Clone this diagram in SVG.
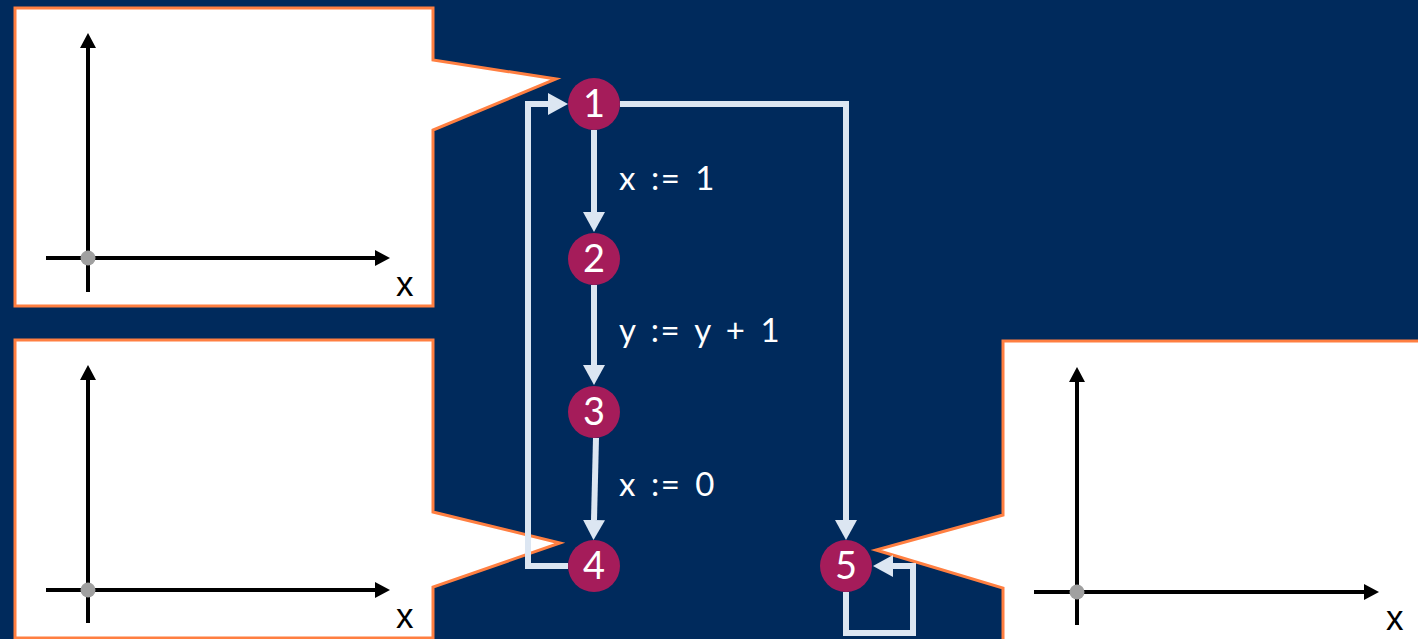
<svg xmlns="http://www.w3.org/2000/svg" width="1418" height="639" viewBox="0 0 1418 639">
<defs>
<style>
.callout{fill:#fff;stroke:#FF7F41;stroke-width:3;stroke-linejoin:miter}
.axis{stroke:#000;stroke-width:4;fill:none}
.dot{fill:#A0A0A0}
.axlbl{font-family:"Liberation Sans",Arial,sans-serif;font-size:35px;fill:#000}
.node{fill:#A51C5A}
.ntext{font-family:Lato,"Open Sans",sans-serif;font-size:38px;fill:#fff;text-anchor:middle}
.edge{stroke:#DCE6F2;stroke-width:6;fill:none;marker-end:url(#ah)}
.elbl{font-family:Lato,"Open Sans",sans-serif;font-size:33px;fill:#fff;letter-spacing:1.5px;word-spacing:4px}
</style>
<marker id="ah" markerUnits="userSpaceOnUse" markerWidth="20" markerHeight="22" refX="0" refY="11" orient="auto" viewBox="0 0 20 22">
<path d="M0,0 L20,11 L0,22 Z" fill="#DCE6F2"/>
</marker>
<marker id="bk" markerUnits="userSpaceOnUse" markerWidth="15" markerHeight="16" refX="0" refY="8" orient="auto" viewBox="0 0 15 16">
<path d="M0,0 L15,8 L0,16 Z" fill="#000"/>
</marker>
</defs>
<rect width="1418" height="639" fill="#002A5C"/>

<g id="callout-top-left">
<path class="callout" d="M15,8 H433 V60 L556,79 L433,130 V306 H15 Z"/>
<path class="axis" d="M88,292 V48" marker-end="url(#bk)"/>
<path class="axis" d="M46,258 H375" marker-end="url(#bk)"/>
<circle class="dot" cx="88" cy="258" r="7.5"/>
<text class="axlbl" x="396" y="296">x</text>
</g>

<g id="callout-bottom-left">
<path class="callout" d="M15,340 H433 V512 L560,543 L433,587 V638 H15 Z"/>
<path class="axis" d="M88,623 V380" marker-end="url(#bk)"/>
<path class="axis" d="M46,590 H375" marker-end="url(#bk)"/>
<circle class="dot" cx="88" cy="590" r="7.5"/>
<text class="axlbl" x="396" y="628">x</text>
</g>

<g id="callout-bottom-right">
<path class="callout" d="M1003,341 H1422 V642 H1003 V588 L876,550 L1003,515 Z"/>
<path class="axis" d="M1077,625 V382" marker-end="url(#bk)"/>
<path class="axis" d="M1034,592 H1364" marker-end="url(#bk)"/>
<circle class="dot" cx="1077" cy="592" r="7.5"/>
<text class="axlbl" x="1386" y="630">x</text>
</g>

<g id="connectors">
<path class="edge" d="M594,130 V212"/>
<path class="edge" d="M594,285 V365"/>
<path class="edge" d="M596,438 L594,520"/>
<path class="edge" d="M568,566 H528 V104 H548"/>
<path class="edge" d="M620,104 H846 V520"/>
<path class="edge" d="M846,592 V633 H913 V566 H893"/>
<text class="elbl" x="619" y="190">x := 1</text>
<text class="elbl" x="619" y="342">y := y + 1</text>
<text class="elbl" x="619" y="496">x := 0</text>
</g>

<g id="node1"><circle class="node" cx="594" cy="104" r="26"/><text class="ntext" x="594" y="117">1</text></g>
<g id="node2"><circle class="node" cx="594" cy="259" r="26"/><text class="ntext" x="594" y="272">2</text></g>
<g id="node3"><circle class="node" cx="594" cy="412" r="26"/><text class="ntext" x="594" y="425">3</text></g>
<g id="node4"><circle class="node" cx="594" cy="566" r="26"/><text class="ntext" x="594" y="579">4</text></g>
<g id="node5"><circle class="node" cx="846" cy="566" r="26"/><text class="ntext" x="846" y="579">5</text></g>
</svg>
